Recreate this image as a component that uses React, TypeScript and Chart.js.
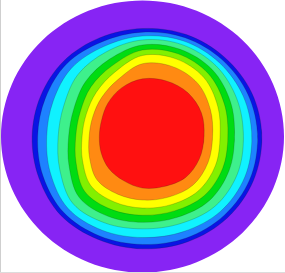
import React, { useEffect, useRef } from "react";
import { Chart, registerables } from "chart.js";

Chart.register(...registerables);

// Directions (degrees, counter-clockwise from +x) at which the contour radii were read
const angles = [0, 22.5, 45, 67.5, 90, 112.5, 135, 157.5, 180, 202.5, 225, 247.5, 270, 292.5, 315, 337.5];

// Radii (fraction of the domain radius) of each filled contour level, per direction
const domainR = [1, 1, 1, 1, 1, 1, 1, 1, 1, 1, 1, 1, 1, 1, 1, 1];
const level1 = [0.843, 0.836, 0.822, 0.811, 0.794, 0.786, 0.786, 0.779, 0.78, 0.793, 0.818, 0.819, 0.826, 0.837, 0.847, 0.848];
const level2 = [0.813, 0.807, 0.797, 0.786, 0.767, 0.753, 0.757, 0.742, 0.741, 0.761, 0.789, 0.792, 0.794, 0.808, 0.818, 0.821];
const level3 = [0.772, 0.771, 0.768, 0.76, 0.739, 0.716, 0.71, 0.683, 0.677, 0.704, 0.746, 0.746, 0.743, 0.757, 0.779, 0.782];
const level4 = [0.713, 0.722, 0.735, 0.731, 0.71, 0.673, 0.645, 0.601, 0.596, 0.633, 0.696, 0.689, 0.679, 0.694, 0.725, 0.725];
const level5 = [0.65, 0.672, 0.696, 0.694, 0.673, 0.614, 0.57, 0.526, 0.522, 0.562, 0.633, 0.635, 0.631, 0.643, 0.667, 0.661];
const level6 = [0.603, 0.626, 0.656, 0.658, 0.636, 0.563, 0.516, 0.476, 0.472, 0.508, 0.575, 0.58, 0.579, 0.592, 0.616, 0.613];
const level7 = [0.548, 0.576, 0.613, 0.618, 0.596, 0.512, 0.461, 0.43, 0.427, 0.459, 0.514, 0.521, 0.526, 0.541, 0.562, 0.558];
const level8 = [0.495, 0.519, 0.552, 0.556, 0.535, 0.453, 0.407, 0.38, 0.377, 0.405, 0.453, 0.459, 0.467, 0.482, 0.505, 0.501];
const level9 = [0.435, 0.451, 0.454, 0.442, 0.424, 0.387, 0.346, 0.313, 0.305, 0.316, 0.335, 0.351, 0.379, 0.398, 0.428, 0.434];

const levelRadii = [domainR, level1, level2, level3, level4, level5, level6, level7, level8, level9];
const levelColors = [
  "#8724f4",
  "#0a14e4",
  "#1e82ff",
  "#10f2ff",
  "#3ef08c",
  "#00dc12",
  "#82f000",
  "#ffff00",
  "#ff8a12",
  "#ff1010",
];

function loopPoints(radii: number[]) {
  const pts = angles.map((a, i) => {
    const t = (a * Math.PI) / 180;
    return { x: radii[i] * Math.cos(t), y: radii[i] * Math.sin(t) };
  });
  const n = pts.length;
  // wrap around so the smoothed outline closes without a kink
  return [pts[n - 1], ...pts, pts[0], pts[1]];
}

export default function App() {
  const ref = useRef<HTMLCanvasElement | null>(null);

  useEffect(() => {
    if (!ref.current) return;
    const last = angles.length + 2;
    const datasets = levelRadii.map((r, i) => ({
      data: loopPoints(r),
      backgroundColor: levelColors[i],
      borderColor: i === 0 ? "rgba(0,0,0,0)" : "rgba(20,30,20,0.28)",
      borderWidth: i === 0 ? 0 : 0.7,
      segment: {
        borderColor: (ctx: any) =>
          i === 0 || ctx.p0DataIndex === 0 || ctx.p1DataIndex === last ? "rgba(0,0,0,0)" : "rgba(20,30,20,0.28)",
      },
      pointRadius: 0,
      fill: "shape" as any,
      tension: 0.34,
      order: levelRadii.length - i,
    }));
    const chart = new Chart(ref.current, {
      type: "line",
      data: { datasets: datasets as any },
      options: {
        animation: false,
        responsive: false,
        maintainAspectRatio: false,
        devicePixelRatio: 1,
        layout: { padding: 0 },
        plugins: { legend: { display: false }, tooltip: { enabled: false } },
        elements: { line: { capBezierPoints: false } },
        scales: {
          x: { type: "linear", min: -1.007, max: 1.007, display: false },
          y: { type: "linear", min: -1.0037, max: 1.0037, display: false },
        },
      },
    });
    return () => chart.destroy();
  }, []);

  return (
    <div style={{ position: "fixed", left: 0, top: 0, width: 285, height: 273, background: "#fff" }}>
      <canvas ref={ref} width={285} height={273} style={{ display: "block" }} />
      <div style={{ position: "absolute", left: 0, top: 0, width: 1, height: 273, background: "#cfcfcf" }} />
      <div style={{ position: "absolute", left: 0, top: 272, width: 285, height: 1, background: "#dcdcdc" }} />
    </div>
  );
}
